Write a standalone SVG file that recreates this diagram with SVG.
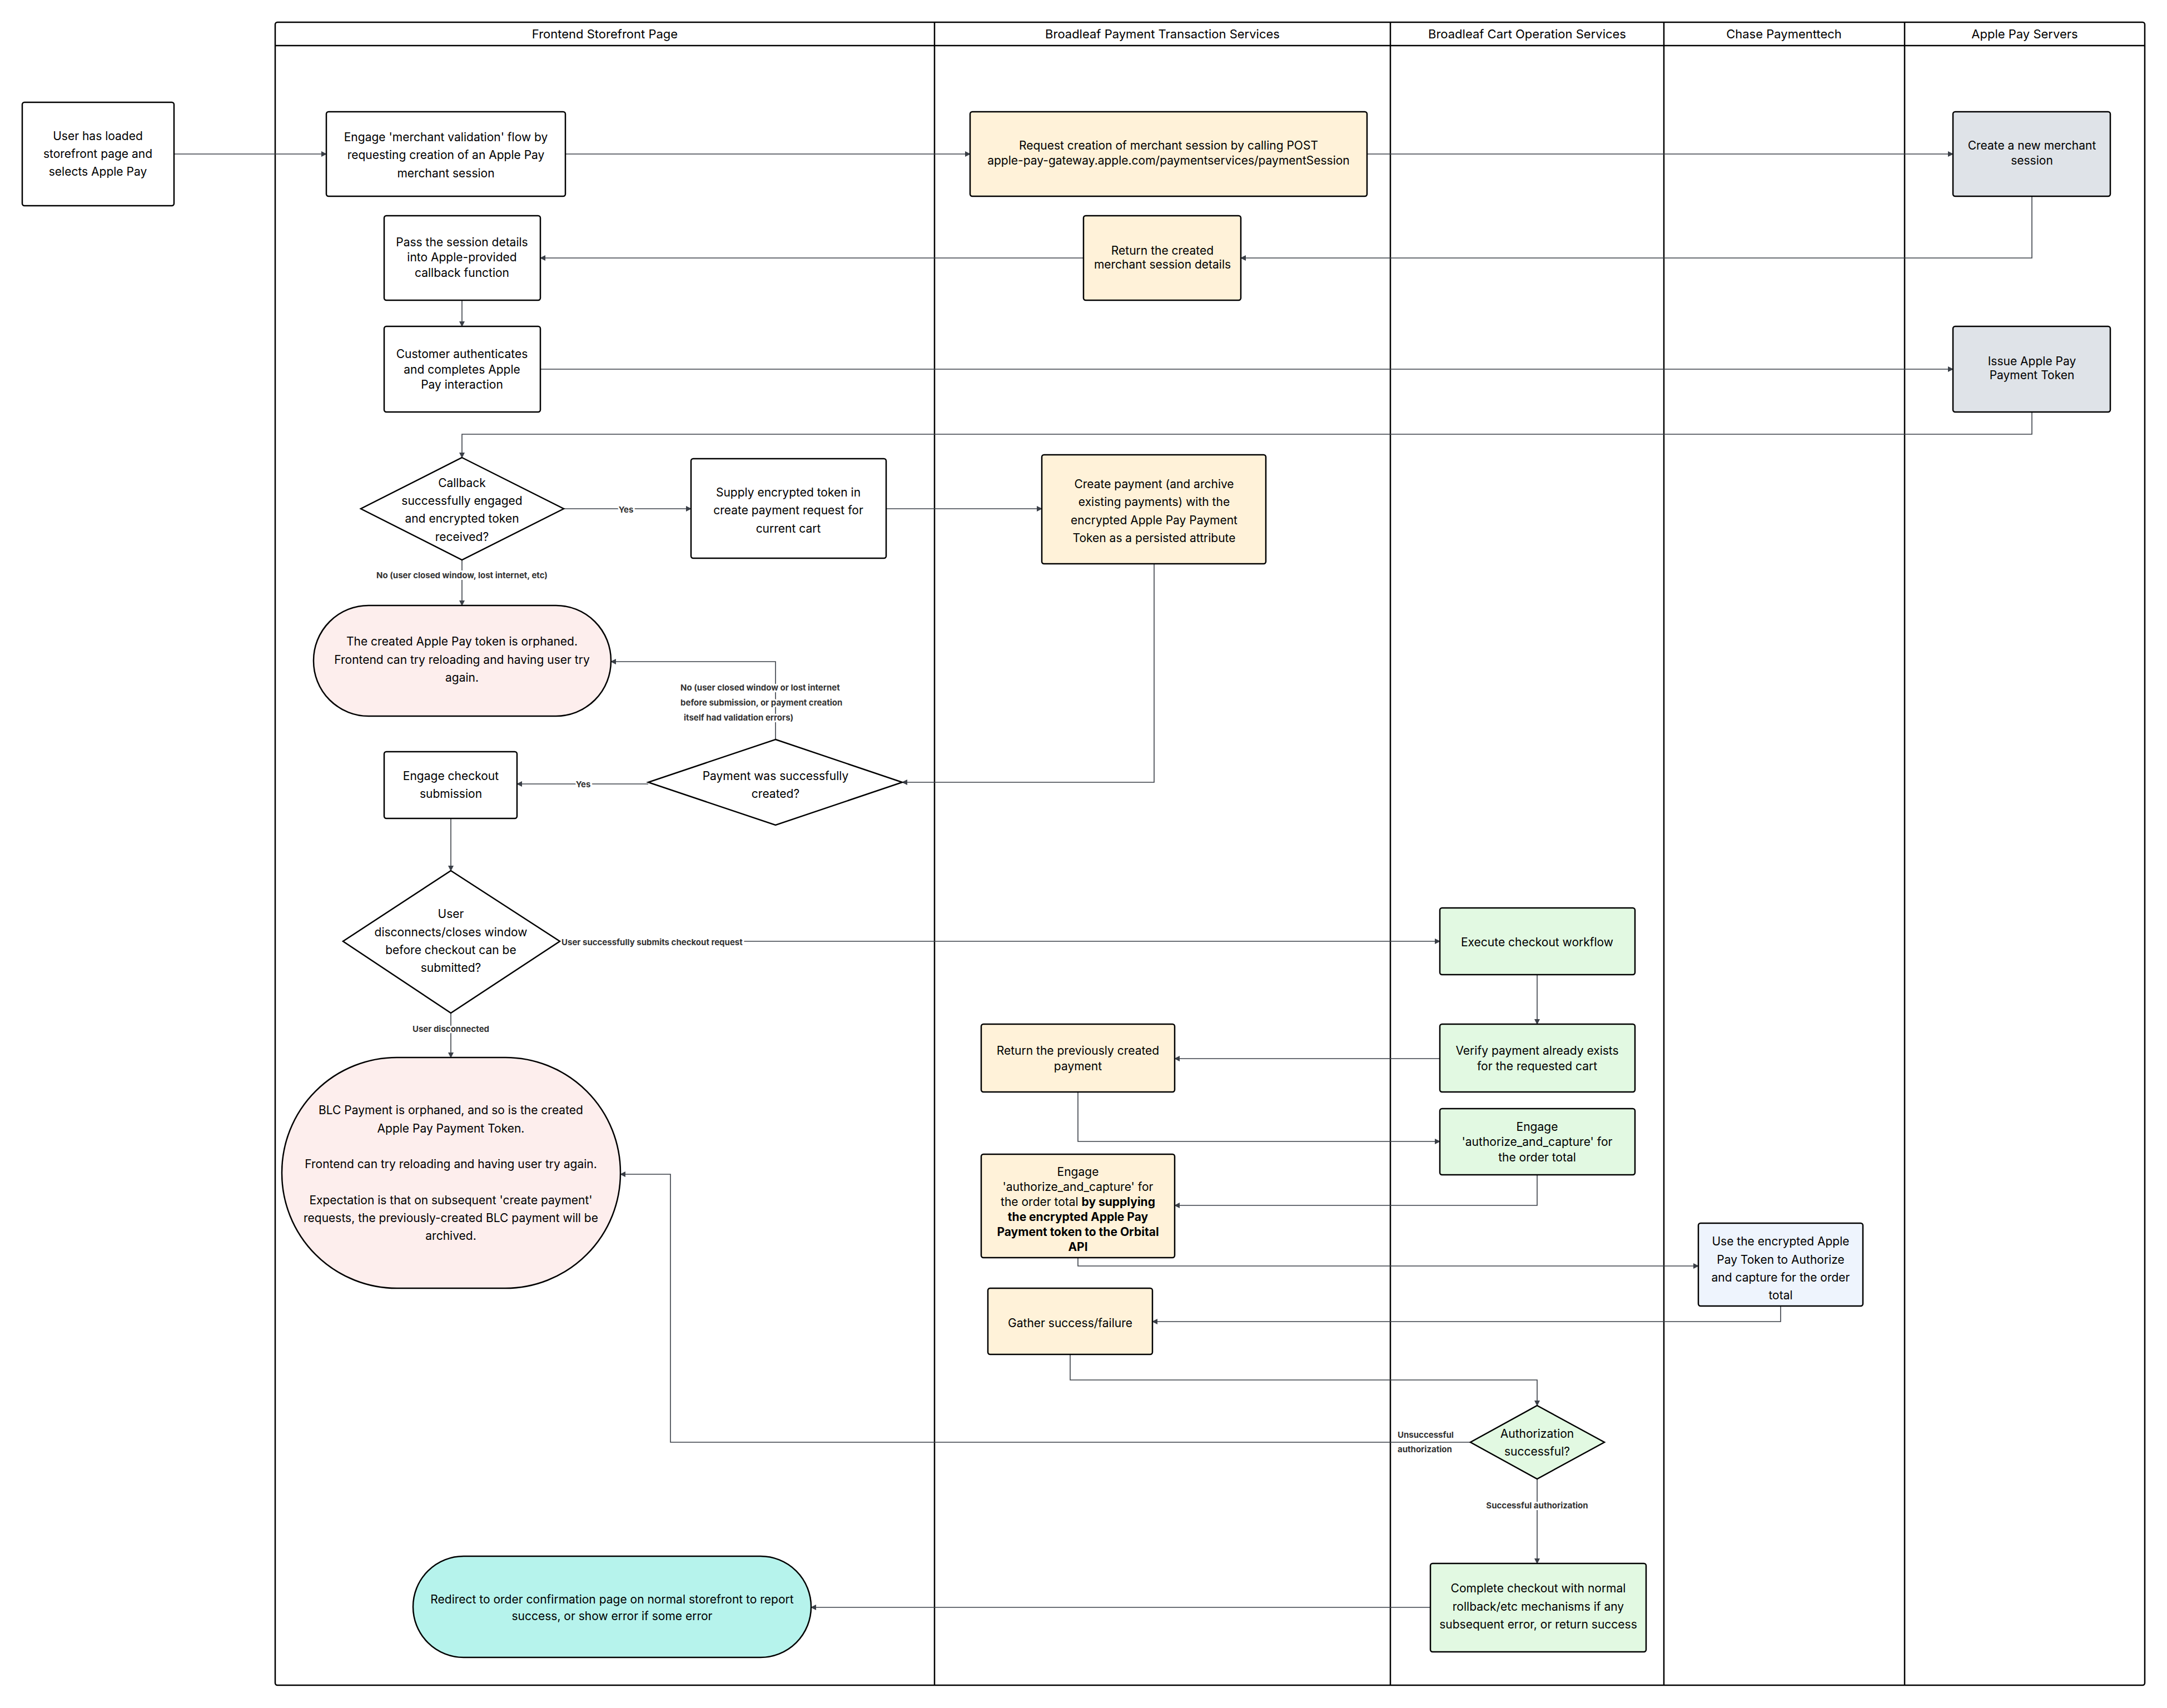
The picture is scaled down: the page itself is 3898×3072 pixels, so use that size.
<svg xmlns="http://www.w3.org/2000/svg" width="3898" height="3072" viewBox="0 0 3898 3072">
<defs>
<marker id="ah" viewBox="0 0 10 10" refX="9" refY="5" markerWidth="10" markerHeight="10" markerUnits="userSpaceOnUse" orient="auto"><path d="M0,0 L10,5 L0,10 z" fill="#3a3f47"/></marker>
<style>
text{font-family:Inter,"Liberation Sans",Arial,sans-serif;font-size:21px;fill:#000;text-anchor:middle;dominant-baseline:central}
.h{font-size:22px}
.lbl{font-size:15px;font-weight:bold;fill:#333;stroke:#fff;stroke-width:6px;paint-order:stroke}
.n{stroke:#000;stroke-width:2.5}
.w{fill:#fff}.y{fill:#fff2d9}.g{fill:#dfe3e8}.gr{fill:#e2f9e2}.p{fill:#fdeeed}.b{fill:#eef4fd}.t{fill:#b6f3ec}
.c{fill:none;stroke:#3a3f47;stroke-width:1.6;marker-end:url(#ah)}
.lane{fill:none;stroke:#000;stroke-width:2.5}
</style>
</defs>
<rect width="3898" height="3072" fill="#fff"/>
<g id="pool">
<rect class="lane" x="495" y="40" width="3363" height="2991" rx="4"/>
<line class="lane" x1="495" y1="82" x2="3858" y2="82"/>
<line class="lane" x1="1681" y1="40" x2="1681" y2="3031"/>
<line class="lane" x1="2501" y1="40" x2="2501" y2="3031"/>
<line class="lane" x1="2993" y1="40" x2="2993" y2="3031"/>
<line class="lane" x1="3426" y1="40" x2="3426" y2="3031"/>
<text class="h" x="1088" y="61">Frontend Storefront Page</text>
<text class="h" x="2091" y="61">Broadleaf Payment Transaction Services</text>
<text class="h" x="2747" y="61">Broadleaf Cart Operation Services</text>
<text class="h" x="3209" y="61">Chase Paymenttech</text>
<text class="h" x="3642" y="61">Apple Pay Servers</text>
</g>
<g id="connectors">
<path class="c" d="M313,277 H587"/>
<path class="c" d="M1017,277 H1745"/>
<path class="c" d="M2459,277 H3513"/>
<path class="c" d="M3655,353 V464 H2232"/>
<path class="c" d="M1949,464 H972"/>
<path class="c" d="M831,540 V587"/>
<path class="c" d="M972,664 H3513"/>
<path class="c" d="M3655,741 V781 H831 V823"/>
<path class="c" d="M1014,915 H1243"/>
<path class="c" d="M1594,915 H1874"/>
<path class="c" d="M831,1007 V1089"/>
<path class="c" d="M2076,1014 V1407 H1623"/>
<path class="c" d="M1395,1330 V1190 H1099"/>
<path class="c" d="M1166,1410 H930"/>
<path class="c" d="M811,1472 V1566"/>
<path class="c" d="M1007,1693 H2590"/>
<path class="c" d="M811,1822 V1902"/>
<path class="c" d="M2765,1753 V1842"/>
<path class="c" d="M2590,1904 H2113"/>
<path class="c" d="M1939,1964 V2053 H2590"/>
<path class="c" d="M2765,2113 V2168 H2113"/>
<path class="c" d="M1939,2262 V2277 H3055"/>
<path class="c" d="M3203,2349 V2377 H2073"/>
<path class="c" d="M1925,2436 V2482 H2765 V2528"/>
<path class="c" d="M2645,2594 H1206 V2112 H1116"/>
<path class="c" d="M2765,2660 V2812"/>
<path class="c" d="M2573,2891 H1459"/>
<text class="lbl" x="1126" y="916">Yes</text>
<text class="lbl" x="831" y="1034">No (user closed window, lost internet, etc)</text>
<text class="lbl" x="1224" y="1236" style="text-anchor:start">No (user closed window or lost internet</text>
<text class="lbl" x="1224" y="1263" style="text-anchor:start">before submission, or payment creation</text>
<text class="lbl" x="1230" y="1290" style="text-anchor:start">itself had validation errors)</text>
<text class="lbl" x="1049" y="1410">Yes</text>
<text class="lbl" x="1010" y="1694" style="text-anchor:start">User successfully submits checkout request</text>
<text class="lbl" x="811" y="1850">User disconnected</text>
<text class="lbl" x="2514" y="2580" style="text-anchor:start">Unsuccessful</text>
<text class="lbl" x="2514" y="2606" style="text-anchor:start">authorization</text>
<text class="lbl" x="2765" y="2707">Successful authorization</text>
</g>
<g id="start"><rect class="n w" x="40" y="184" width="273" height="186" rx="4"/><text x="176" y="244">User has loaded</text><text x="176" y="276">storefront page and</text><text x="176" y="308">selects Apple Pay</text></g>
<g id="n1"><rect class="n w" x="587" y="201" width="430" height="152" rx="4"/><text x="802" y="246">Engage 'merchant validation' flow by</text><text x="802" y="278">requesting creation of an Apple Pay</text><text x="802" y="311">merchant session</text></g>
<g id="n2"><rect class="n y" x="1745" y="201" width="714" height="152" rx="4"/><text x="2102" y="261">Request creation of merchant session by calling  POST</text><text x="2102" y="288">apple-pay-gateway.apple.com/paymentservices/paymentSession</text></g>
<g id="n3"><rect class="n g" x="3513" y="201" width="283" height="152" rx="4"/><text x="3655" y="261">Create a new merchant</text><text x="3655" y="288">session</text></g>
<g id="n4"><rect class="n y" x="1949" y="388" width="283" height="152" rx="4"/><text x="2091" y="450">Return the created</text><text x="2091" y="475">merchant session details</text></g>
<g id="n5"><rect class="n w" x="691" y="388" width="281" height="152" rx="4"/><text x="831" y="435">Pass the session details</text><text x="831" y="462">into Apple-provided</text><text x="831" y="490">callback function</text></g>
<g id="n6"><rect class="n w" x="691" y="587" width="281" height="154" rx="4"/><text x="831" y="636">Customer authenticates</text><text x="831" y="664">and completes Apple</text><text x="831" y="691">Pay interaction</text></g>
<g id="n7"><rect class="n g" x="3513" y="587" width="283" height="154" rx="4"/><text x="3655" y="649">Issue Apple Pay</text><text x="3655" y="674">Payment Token</text></g>
<g id="d1"><path class="n w" d="M831,823 L1014,915 L831,1007 L649,915 Z"/><text x="831" y="868">Callback</text><text x="831" y="900">successfully engaged</text><text x="831" y="932">and encrypted token</text><text x="831" y="965">received?</text></g>
<g id="n8"><rect class="n w" x="1243" y="825" width="351" height="179" rx="4"/><text x="1418" y="885">Supply encrypted token in</text><text x="1418" y="917">create payment request for</text><text x="1418" y="950">current cart</text></g>
<g id="n9"><rect class="n y" x="1874" y="818" width="403" height="196" rx="4"/><text x="2076" y="870">Create payment (and archive</text><text x="2076" y="902">existing payments) with the</text><text x="2076" y="935">encrypted Apple Pay Payment</text><text x="2076" y="967">Token as a persisted attribute</text></g>
<g id="t1"><rect class="n p" x="564" y="1089" width="535" height="199" rx="99"/><text x="831" y="1153">The created Apple Pay token is orphaned.</text><text x="831" y="1186">Frontend can try reloading and having user try</text><text x="831" y="1218">again.</text></g>
<g id="d2"><path class="n w" d="M1395,1330 L1623,1407 L1395,1484 L1166,1407 Z"/><text x="1395" y="1395">Payment was successfully</text><text x="1395" y="1427">created?</text></g>
<g id="n10"><rect class="n w" x="691" y="1352" width="239" height="120" rx="4"/><text x="811" y="1395">Engage checkout</text><text x="811" y="1427">submission</text></g>
<g id="d3"><path class="n w" d="M811,1566 L1007,1693 L811,1822 L617,1693 Z"/><text x="811" y="1643">User</text><text x="811" y="1676">disconnects/closes window</text><text x="811" y="1708">before checkout can be</text><text x="811" y="1740">submitted?</text></g>
<g id="n11"><rect class="n gr" x="2590" y="1633" width="351" height="120" rx="4"/><text x="2765" y="1694">Execute checkout workflow</text></g>
<g id="t2"><rect class="n p" x="507" y="1902" width="609" height="415" rx="207"/><text x="811" y="1996">BLC Payment is orphaned, and so is the created</text><text x="811" y="2029">Apple Pay Payment Token.</text><text x="811" y="2093">Frontend can try reloading and having user try again.</text><text x="811" y="2158">Expectation is that on subsequent 'create payment'</text><text x="811" y="2190">requests, the previously-created BLC payment will be</text><text x="811" y="2222">archived.</text></g>
<g id="n12"><rect class="n gr" x="2590" y="1842" width="351" height="122" rx="4"/><text x="2765" y="1889">Verify payment already exists</text><text x="2765" y="1917">for the requested cart</text></g>
<g id="n13"><rect class="n y" x="1765" y="1842" width="348" height="122" rx="4"/><text x="1939" y="1889">Return the previously created</text><text x="1939" y="1917">payment</text></g>
<g id="n14"><rect class="n gr" x="2590" y="1994" width="351" height="119" rx="4"/><text x="2765" y="2026">Engage</text><text x="2765" y="2053">'authorize_and_capture' for</text><text x="2765" y="2081">the order total</text></g>
<g id="n15"><rect class="n y" x="1765" y="2076" width="348" height="186" rx="4"/><text x="1939" y="2107">Engage</text><text x="1939" y="2134">'authorize_and_capture' for</text><text x="1939" y="2161">the order total  <tspan font-weight="bold">by supplying</tspan></text><text x="1939" y="2188" font-weight="bold">the encrypted Apple Pay</text><text x="1939" y="2215" font-weight="bold">Payment token to the Orbital</text><text x="1939" y="2242" font-weight="bold">API</text></g>
<g id="n16"><rect class="n b" x="3055" y="2200" width="296" height="149" rx="4"/><text x="3203" y="2232">Use the encrypted Apple</text><text x="3203" y="2265">Pay Token to Authorize</text><text x="3203" y="2297">and capture for the order</text><text x="3203" y="2329">total</text></g>
<g id="n17"><rect class="n y" x="1777" y="2317" width="296" height="119" rx="4"/><text x="1925" y="2379">Gather success/failure</text></g>
<g id="d4"><path class="n gr" d="M2765,2528 L2886,2594 L2765,2660 L2645,2594 Z"/><text x="2765" y="2578">Authorization</text><text x="2765" y="2610">successful?</text></g>
<g id="n18"><rect class="n gr" x="2573" y="2812" width="388" height="159" rx="4"/><text x="2767" y="2856">Complete checkout with normal</text><text x="2767" y="2889">rollback/etc mechanisms if any</text><text x="2767" y="2921">subsequent error, or return success</text></g>
<g id="t3"><rect class="n t" x="743" y="2799" width="716" height="182" rx="91"/><text x="1101" y="2876">Redirect to order confirmation page on normal storefront to report</text><text x="1101" y="2906">success, or show error if some error</text></g>
</svg>
